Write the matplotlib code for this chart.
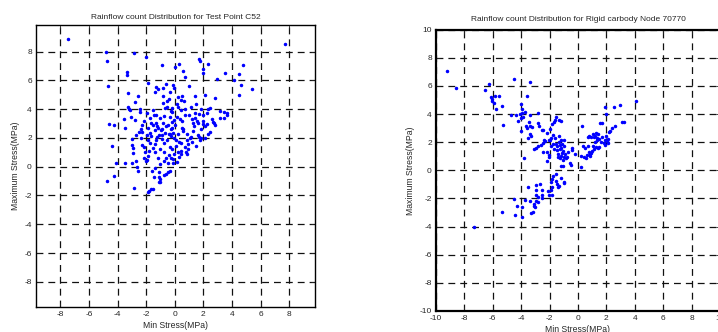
import matplotlib
matplotlib.use('Agg')
import matplotlib.pyplot as plt

plt.rcParams['font.family'] = ['Liberation Sans', 'DejaVu Sans']
plt.rcParams['axes.unicode_minus'] = False

# Test Point C52: (min stress, max stress) pairs
c52_min = [-7.46, 7.67, -4.83, -4.76, -2.87, -2.0, 1.72, 1.77, -0.86, 0.28, 0.05, 2.33, 4.76, 1.98, 1.94,
           -3.33, -3.31, 0.56, 0.70, 3.5, 4.52, 2.92, 4.13, -1.84, -4.69, -0.58, 0.98, -0.14, 4.64, 5.41,
           -1.33, -1.19, -0.82, -0.07, -3.27, -0.30, -1.38, 2.1, 1.38, 4.52, -0.79, -2.56, 0.26, 0.49, 2.84,
           -0.4, 0.42, -2.75, -0.56, 0.63, -0.79, 0.16, 1.45, -3.27, -3.2, -3.1, -2.45, -0.56, -0.19, 0.26,
           0.75, 1.14, 1.8, 2.31, 2.45, -1.49, -0.7, -0.23, 0.47, -2.45, -1.94, 1.38, 3.13, 3.43, 3.64,
           3.66, -1.47, -1.33, -0.72, 0.16, 0.7, 1.66, 1.98, 2.26, -3.08, -3.55, -1.75, -1.05, -0.35, -0.07,
           0.35, 1.21, 1.4, 3.13, 3.43, -2.8, -2.17, 0.51, 1.54, 1.94, -4.59, -4.24, -1.66, -1.33, -0.79,
           -0.19, 1.26, 1.63, 2.68, 2.77, 2.84, -2.29, -1.24, -0.61, 0.05, 1.33, 2.08, 2.24, -3.48, -1.87,
           -0.16, 0.51, -2.38, -1.4, -0.96, -0.23, 1.8, -2.31, 0.58, 1.26, 2.45, -1.7, -0.65, -0.12, -2.7,
           -1.96, -1.12, -0.86, -0.42, -0.26, 0.23, 0.84, 1.61, 2.35, -1.66, -1.24, 1.68, 1.8, 2.1, 1.75,
           -2.98, -4.36, -2.98, -2.33, -1.84, -1.28, -0.91, -0.51, -0.05, 0.09, 0.86, 1.07, -2.31, -1.75,
           -1.35, -0.77, 0.47, 1.21, -2.17, -1.54, -0.33, 0.07, 0.7, 1.45, -2.94, -1.0, -0.16, 0.44, 0.93,
           -2.92, -2.08, -1.35, -0.72, 0.23, 0.82, -1.87, -0.37, -0.05, 0.47, 0.89, -2.12, -1.94, -2.0,
           -1.14, -0.63, -0.23, 0.28, -3.5, -4.13, -2.73, -1.05, -0.72, -0.47, -0.09, 0.14, -2.63, -3.01,
           -2.56, -1.38, -0.14, -1.61, -0.44, -0.35, -1.12, -4.22, -4.71, -1.45, -1.1, -0.77, -0.61, -1.0,
           -1.05, -1.1, -2.87, -1.89, -1.82, -1.63, -1.54, -1.5, -0.9, 0.6, 1.0, -0.3, 0.95, -1.2, 2.0,
           -2.5, -0.5, 1.1, 0.3, -1.8, 2.6, -0.2]
c52_max = [8.86, 8.52, 7.96, 7.33, 7.89, 7.66, 7.47, 7.36, 7.08, 7.15, 6.96, 7.12, 7.05, 6.8, 6.52,
           6.61, 6.36, 6.68, 6.26, 6.54, 6.45, 6.08, 6.03, 5.82, 5.64, 5.75, 5.64, 5.66, 5.66, 5.41,
           5.55, 5.43, 5.5, 5.5, 5.13, 5.2, 5.17, 4.97, 4.94, 4.99, 4.94, 4.9, 4.87, 4.94, 4.76,
           4.69, 4.64, 4.52, 4.59, 4.57, 4.41, 4.34, 4.34, 4.13, 4.01, 3.94, 4.04, 4.18, 4.11, 4.15,
           3.99, 4.15, 3.99, 4.01, 4.06, 3.94, 4.06, 3.9, 3.94, 3.83, 3.76, 3.76, 3.9, 3.83, 3.71,
           3.62, 3.62, 3.57, 3.5, 3.48, 3.6, 3.67, 3.57, 3.71, 3.43, 3.32, 3.41, 3.41, 3.43, 3.25,
           3.34, 3.29, 3.41, 3.36, 3.41, 3.25, 3.2, 3.2, 3.2, 3.16, 2.95, 2.92, 3.02, 3.06, 3.02,
           3.09, 3.06, 3.02, 3.11, 3.02, 2.9, 2.9, 2.83, 2.83, 2.9, 2.83, 2.83, 2.95, 2.71, 2.67,
           2.71, 2.71, 2.6, 2.55, 2.55, 2.6, 2.62, 2.44, 2.48, 2.48, 2.44, 2.37, 2.32, 2.37, 2.2,
           2.2, 2.23, 2.2, 2.25, 2.13, 2.27, 2.25, 2.2, 2.27, 2.13, 2.09, 2.09, 1.97, 2.02, 1.86,
           1.9, 1.44, 1.53, 1.97, 1.86, 1.86, 1.9, 1.86, 2.02, 1.86, 1.86, 2.02, 1.48, 1.62,
           1.58, 1.67, 1.67, 1.74, 1.39, 1.32, 1.39, 1.44, 1.39, 1.44, 1.28, 1.23, 1.21, 1.11, 1.21,
           0.95, 1.0, 1.02, 1.02, 1.04, 1.04, 0.77, 0.81, 0.88, 0.86, 0.86, 0.6, 0.46, 0.39,
           0.58, 0.6, 0.58, 0.7, 0.23, 0.23, 0.42, 0.19, 0.37, 0.23, 0.28, 0.32, 0.0, 0.23,
           -0.32, -0.12, 0.51, -0.3, -0.37, -0.28, -0.37, -0.65, -1.0, -0.7, -0.7, -0.56, -0.51, -0.88,
           -1.04, -1.09, -1.46, -1.74, -1.67, -1.53, -1.58, 2.9, 2.6, 2.6, 3.6, 2.3, 1.6, 2.7, 3.0,
           2.4, 2.9, 2.1, 1.7, 1.1, 3.3, 3.8]

# Rigid carbody Node 70770: (min stress, max stress) pairs
node_min = [-9.25, -8.59, -7.34, -6.28, -6.56, -6.14, -6.07, -6.05, -5.93, -5.81, -5.55, -5.74, -5.36, -5.27,
            -4.47, -3.41, -4.75, -4.35, -4.21, -4.05, -3.98, -3.93, -3.91, -4.02, -3.88, -4.02, -3.76, -3.62,
            -3.65, -3.58, -3.48, -3.41, -3.36, -3.27, -3.55, -3.41, -3.29, -3.81, -2.8, -2.8, -2.71, -2.52,
            -2.45, -3.13, -2.94, -2.78, -2.61, -2.49, -2.49, -2.42, -2.31, -2.21, -2.16, -2.16, -2.07, -2.0,
            -2.05, -2.02, -1.93, -1.95, -1.88, -1.81, -1.76, -1.74, -1.69, -1.67, -1.62, -1.55, -1.6, -1.53,
            -1.51, -1.46, -1.44, -1.36, -1.39, -1.34, -1.32, -1.29, -1.29, -1.27, -1.22, -1.2, -1.18, -1.15,
            -1.18, -1.22, -1.11, -1.08, -1.06, -1.04, -1.01, -0.99, -1.01, -0.94, -0.85, -0.78, -0.68, -0.54,
            -0.52, -0.42, -0.42, -0.24, 0.19, 0.24, 0.31, 0.4, 0.38, 0.47, 0.59, 0.66, 0.71, 0.71, 0.75,
            0.8, 0.82, 0.87, 0.89, 0.94, 0.99, 1.04, 1.06, 1.11, 1.13, 1.18, 1.22, 1.27, 1.29, 1.32, 1.36,
            1.41, 1.44, 1.48, 1.51, 1.55, 1.67, 1.62, 1.72, 1.84, 1.88, 1.91, 1.95, 1.93, 2.0, 2.05, 2.09,
            2.14, 2.19, 2.28, 2.42, 2.59, 2.54, 2.99, 3.08, 3.25, 4.09,
            -1.76, -1.58, -1.93, -1.86, -1.53, -1.48, -1.44, -1.32, -1.2, -1.01, -0.96, -1.81, -2.09, -1.88,
            -2.05, -1.86, -2.52, -2.68, -2.96, -2.96, -3.51, -2.92, -2.82, -2.52, -2.52, -2.94, -2.8, -3.11,
            -3.36, -3.72, -4.52, -4.26, -3.91, -3.13, -3.01, -3.32, -3.18, -3.91, -4.45, -5.32]
node_max = [7.03, 5.87, -4.01, 6.13, 5.68, 5.23, 5.08, 4.92, 4.8, 5.25, 5.3, 4.37, 4.54, 3.21,
            6.48, 6.25, 3.9, 3.9, 3.54, 4.01, 4.73, 4.37, 4.06, 3.75, 3.78, 2.83, 4.13, 5.25,
            3.14, 3.02, 3.47, 3.94, 3.18, 3.11, 2.33, 2.57, 2.45, 0.86, 4.06, 3.37, 3.14, 2.9,
            2.85, 1.5, 1.57, 1.71, 1.81, 1.97, 1.33, 2.19, 2.11, 2.64, 1.28, 0.67, 2.19, 2.95,
            1.09, 0.93, 2.28, 2.14, 1.76, 3.3, 2.49, 1.88, 3.47, 1.5, 3.59, 3.8, 2.28, 1.88,
            1.71, 1.45, 0.93, 3.59, 1.14, 2.47, 2.04, 1.81, 0.86, 1.52, 3.52, 2.19, 1.62, 1.26,
            1.02, 0.33, 1.88, 0.29, 1.4, 0.71, 0.93, 1.71, 2.16, 1.16, 0.86, 0.97, 1.28, 0.52,
            0.38, 1.59, 1.45, 1.16, 0.21, 1.0, 3.18, 0.97, 1.71, 1.57, 0.9, 1.09, 1.76, 2.35, 2.47,
            1.28, 1.02, 1.16, 2.4, 1.24, 1.4, 1.71, 2.59, 2.38, 1.5, 2.0, 2.47, 1.66, 2.66, 2.3, 2.19,
            1.59, 2.59, 2.23, 1.69, 3.35, 3.33, 2.04, 2.4, 1.95, 1.81, 4.49, 4.01, 2.19, 2.47, 2.11, 1.92,
            2.23, 2.71, 2.83, 2.99, 3.18, 4.49, 4.61, 3.42, 3.47, 4.96,
            -0.38, -0.29, -0.81, -0.62, -0.78, -0.97, -1.16, -1.14, -0.55, -0.86, -0.93, -1.16, -1.45, -1.43,
            -1.73, -1.73, -1.4, -1.0, -1.07, -1.38, -1.16, -1.73, -1.88, -1.76, -1.95, -2.16, -2.28, -2.4,
            -2.19, -2.14, -2.02, -2.52, -2.64, -2.57, -2.59, -3.04, -2.97, -3.3, -3.16, -2.97]

text_color = '#262626'
fig = plt.figure(figsize=(7.18, 3.32), dpi=100)

def style_axes(ax, ticks, spine_lw):
    ax.set_xticks(ticks)
    ax.set_yticks(ticks)
    ax.grid(True, color='#111111', linestyle=(0, (5.5, 4)), linewidth=0.9)
    ax.set_axisbelow(True)
    ax.tick_params(direction='in', top=True, right=True, length=3, width=0.6,
                   labelsize=6, colors=text_color, pad=3)
    for s in ax.spines.values():
        s.set_linewidth(spine_lw)
        s.set_color('black')
    ax.set_xlabel('Min Stress(MPa)', fontsize=6.2, color=text_color, labelpad=2)
    ax.set_ylabel('Maximum Stress(MPa)', fontsize=6.2, color=text_color, labelpad=3)

# Left: Test Point C52
ax1 = fig.add_axes([0.0501, 0.0753, 0.3886, 0.8494])
ax1.plot(c52_min, c52_max, '.', color='#0000ff', markersize=3)
ax1.set_xlim(-9.7, 9.8)
ax1.set_ylim(-9.75, 9.85)
style_axes(ax1, list(range(-8, 9, 2)), 1.0)
ax1.set_title('Rainflow count Distribution for Test Point C52', fontsize=6, color=text_color, pad=4)

# Right: Rigid carbody Node 70770 (runs off the right edge, as in the source)
ax2 = fig.add_axes([0.6072, 0.0633, 0.3955, 0.8473])
ax2.plot(node_min, node_max, '.', color='#0000ff', markersize=3)
ax2.set_xlim(-10, 10)
ax2.set_ylim(-10, 10)
style_axes(ax2, list(range(-10, 11, 2)), 1.6)
ax2.set_title('Rainflow count Distribution for Rigid carbody Node 70770', fontsize=6, color=text_color, pad=6)

fig.savefig('out.png', dpi=100)
